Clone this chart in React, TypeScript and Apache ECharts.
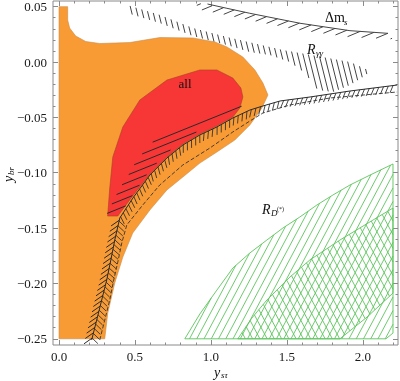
import React, { useEffect, useRef } from "react";
import * as echarts from "echarts";

// ---------- axis ranges & ticks ----------
const X_MIN = -0.0395;
const X_MAX = 2.231;
const Y_MIN = -0.2556;
const Y_MAX = 0.0551;
const xMajorTicks = [0, 0.5, 1, 1.5, 2];
const xMinorTicks = [0.1, 0.2, 0.3, 0.4, 0.6, 0.7, 0.8, 0.9, 1.1, 1.2, 1.3, 1.4, 1.6, 1.7, 1.8, 1.9, 2.1, 2.2];
const yMajorTicks = [-0.25, -0.2, -0.15, -0.1, -0.05, 0, 0.05];
const yMinorTicks = [
  -0.24, -0.23, -0.22, -0.21, -0.19, -0.18, -0.17, -0.16, -0.14, -0.13, -0.12, -0.11,
  -0.09, -0.08, -0.07, -0.06, -0.04, -0.03, -0.02, -0.01, 0.01, 0.02, 0.03, 0.04,
];

// ---------- regions (data coordinates: [y_sτ, y_br]) ----------
const orangeRegion = [
  [0, -0.25], [0, 0.05], [0.057, 0.05], [0.057, 0.038], [0.07, 0.0307], [0.11, 0.0235],
  [0.176, 0.0185], [0.268, 0.0167], [0.466, 0.0176], [0.664, 0.0221], [0.881, 0.0217],
  [1.026, 0.0181], [1.105, 0.0136], [1.21, 0.0045], [1.289, -0.0072], [1.342, -0.019],
  [1.375, -0.0298], [1.335, -0.0416], [1.256, -0.0569], [1.157, -0.0705], [1.039, -0.0813],
  [0.927, -0.0913], [0.815, -0.1039], [0.71, -0.1156], [0.598, -0.1337], [0.485, -0.1545],
  [0.42, -0.1762], [0.367, -0.1996], [0.321, -0.2267], [0.301, -0.25],
];
const redRegion = [
  [0.32, -0.1391], [0.334, -0.1138], [0.354, -0.0858], [0.42, -0.0587], [0.532, -0.0343],
  [0.71, -0.0163], [0.927, -0.0072], [1.039, -0.0072], [1.144, -0.0145], [1.197, -0.0235],
  [1.21, -0.0316], [1.19, -0.0416], [1.144, -0.0497], [1.039, -0.0578], [0.927, -0.065],
  [0.815, -0.0741], [0.71, -0.0858], [0.598, -0.1012], [0.485, -0.121], [0.387, -0.1391],
];
const greenOuter = [
  [0.828, -0.25], [0.927, -0.2276], [1.039, -0.206], [1.144, -0.1861], [1.256, -0.1725],
  [1.368, -0.1608], [1.473, -0.15], [1.585, -0.14], [1.697, -0.1292], [1.803, -0.1201],
  [1.915, -0.1111], [2.047, -0.1021], [2.198, -0.0921], [2.198, -0.2448], [2.152, -0.25],
];
const greenInner = [
  [1.177, -0.25], [1.269, -0.2313], [1.368, -0.215], [1.52, -0.1942], [1.651, -0.1788],
  [1.849, -0.1608], [2.067, -0.1427], [2.198, -0.1319], [2.198, -0.2087], [2.027, -0.2304],
  [1.849, -0.25],
];
// hatched contour lines
const spineLine = [
  [0.215, -0.2511], [0.248, -0.2331], [0.281, -0.215], [0.314, -0.1969], [0.341, -0.1789],
  [0.367, -0.1608], [0.4, -0.1409], [0.486, -0.1229], [0.598, -0.1021], [0.71, -0.0867],
  [0.815, -0.075], [0.927, -0.0659], [1.039, -0.0587], [1.144, -0.0506], [1.256, -0.0434],
  [1.342, -0.0397], [1.455, -0.0352], [1.652, -0.0316], [1.915, -0.0262], [2.225, -0.0208],
];
const spineLowerCount = 7;
const dashLine = [
  [0.268, -0.2511], [0.301, -0.2331], [0.334, -0.215], [0.36, -0.1969], [0.387, -0.1807],
  [0.413, -0.1635], [0.446, -0.1472], [0.551, -0.1292], [0.663, -0.1111], [0.815, -0.093],
  [0.993, -0.0777], [1.144, -0.0632], [1.256, -0.0533], [1.342, -0.0461], [1.52, -0.0388],
  [1.783, -0.0325], [2.225, -0.0271],
];
const redHatchBand = [
  [0.315, -0.1373], [0.354, -0.1265], [0.4, -0.1138], [0.446, -0.1048], [0.512, -0.0885],
  [0.617, -0.0723], [0.716, -0.0614], [0.947, -0.0488], [1.177, -0.0361], [1.204, -0.0397],
  [1.144, -0.0461], [1.039, -0.0542], [0.927, -0.0614], [0.815, -0.0705], [0.71, -0.0822],
  [0.598, -0.0976], [0.486, -0.1201], [0.4, -0.1382],
];
const rgammaBand = [
  [0.447, 0.0515], [0.664, 0.0425], [0.881, 0.0307], [1.105, 0.0226], [1.302, 0.0163],
  [1.474, 0.0108], [1.698, 0.0054], [1.915, 0.0], [2.047, -0.0081], [2.02, -0.0117],
  [1.915, -0.0208], [1.803, -0.0271], [1.704, -0.0253], [1.619, -0.0099], [1.52, 0.0],
  [1.388, 0.0063], [1.256, 0.009], [1.105, 0.0154], [0.881, 0.0235], [0.664, 0.0352],
  [0.447, 0.0443],
];
const dmsLine = [
  [0.977, 0.0524], [1.105, 0.0485], [1.256, 0.044], [1.586, 0.035], [1.915, 0.0283], [2.165, 0.0259],
];
const dmsBand = [
  [0.907, 0.0533], [1.105, 0.0485], [1.256, 0.044], [1.586, 0.035], [1.915, 0.0283],
  [2.192, 0.0257], [2.192, 0.0208], [1.915, 0.0226], [1.586, 0.0289], [1.256, 0.0379],
  [1.105, 0.0425], [0.907, 0.0479],
];

// ---------- geometry helpers (pixel space) ----------
type Seg = [number, number, number, number];

function hatch(poly: number[][], angleDeg: number, spacing: number): Seg[] {
  const a = (angleDeg * Math.PI) / 180;
  const dx = Math.cos(a), dy = Math.sin(a);
  const nx = -dy, ny = dx;
  let lo = Infinity, hi = -Infinity;
  for (const p of poly) {
    const d = p[0] * nx + p[1] * ny;
    lo = Math.min(lo, d);
    hi = Math.max(hi, d);
  }
  const segs: Seg[] = [];
  for (let c = Math.ceil(lo / spacing) * spacing; c <= hi; c += spacing) {
    const ts: number[] = [];
    for (let i = 0; i < poly.length; i++) {
      const p1 = poly[i], p2 = poly[(i + 1) % poly.length];
      const d1 = p1[0] * nx + p1[1] * ny - c;
      const d2 = p2[0] * nx + p2[1] * ny - c;
      if ((d1 < 0) !== (d2 < 0)) {
        const t = d1 / (d1 - d2);
        const ix = p1[0] + (p2[0] - p1[0]) * t;
        const iy = p1[1] + (p2[1] - p1[1]) * t;
        ts.push(ix * dx + iy * dy);
      }
    }
    ts.sort((u, v) => u - v);
    for (let i = 0; i + 1 < ts.length; i += 2) {
      segs.push([
        c * nx + ts[i] * dx, c * ny + ts[i] * dy,
        c * nx + ts[i + 1] * dx, c * ny + ts[i + 1] * dy,
      ]);
    }
  }
  return segs;
}

function ticksAlong(pts: number[][], spacing: number, angleDeg: number, len: number, relative: boolean, start: number): Seg[] {
  const segs: Seg[] = [];
  let next = start, acc = 0;
  for (let i = 0; i < pts.length - 1; i++) {
    const [x1, y1] = pts[i], [x2, y2] = pts[i + 1];
    const L = Math.hypot(x2 - x1, y2 - y1);
    const t = Math.atan2(y2 - y1, x2 - x1);
    while (next <= acc + L) {
      const f = (next - acc) / L;
      const px = x1 + (x2 - x1) * f, py = y1 + (y2 - y1) * f;
      const a = (relative ? t : 0) + (angleDeg * Math.PI) / 180;
      segs.push([px, py, px + len * Math.cos(a), py + len * Math.sin(a)]);
      next += spacing;
    }
    acc += L;
  }
  return segs;
}

function segPath(segs: Seg[]): string {
  return segs.map((s) => `M${s[0].toFixed(2)} ${s[1].toFixed(2)}L${s[2].toFixed(2)} ${s[3].toFixed(2)}`).join("");
}

function layer(render: (px: (pts: number[][]) => number[][]) => any[]) {
  return {
    type: "custom",
    coordinateSystem: "cartesian2d",
    xAxisIndex: 0,
    yAxisIndex: 0,
    clip: true,
    silent: true,
    data: [[0, 0]],
    renderItem: (_params: any, api: any) => {
      const px = (pts: number[][]) => pts.map((p) => api.coord(p));
      return { type: "group", children: render(px) };
    },
  };
}

const SERIF = "'Liberation Serif', 'DejaVu Serif', serif";
const FRAME = "#8a8a8a";

// y is the vertical middle of the text
function txt(x: number, y: number, text: string, size: number, italic: boolean, align = "left") {
  return {
    type: "text",
    x,
    y,
    z: 100,
    style: {
      text,
      fontFamily: SERIF,
      fontSize: size,
      fontStyle: italic ? "italic" : "normal",
      fill: "#111",
      align,
      verticalAlign: "middle",
    },
  };
}

export default function App() {
  const ref = useRef<HTMLDivElement>(null);
  useEffect(() => {
    if (!ref.current) return;
    const chart = echarts.init(ref.current, undefined, { renderer: "svg" });

    const tickAxis = (dim: "x" | "y", position: string, values: number[], len: number, labels: boolean) => {
      const base: any = {
        type: "value",
        min: dim === "x" ? X_MIN : Y_MIN,
        max: dim === "x" ? X_MAX : Y_MAX,
        position,
        axisLine: { show: false, onZero: false },
        splitLine: { show: false },
        axisTick: { show: true, inside: true, length: len, customValues: values, lineStyle: { color: FRAME, width: 1 } },
        axisLabel: labels
          ? {
              show: true,
              customValues: values,
              fontFamily: SERIF,
              fontSize: 13,
              color: "#1a1a1a",
              margin: dim === "x" ? 5 : 6,
              formatter: (v: number) =>
                dim === "x" ? v.toFixed(1) : (v < -1e-9 ? "\u2212" : "") + Math.abs(v).toFixed(2),
            }
          : { show: false },
      };
      return base;
    };

    const option: any = {
      animation: false,
      grid: { left: 53, top: 1, width: 345, height: 344, show: true, borderColor: FRAME, borderWidth: 1 },
      xAxis: [
        tickAxis("x", "bottom", xMajorTicks, 5, true),
        tickAxis("x", "bottom", xMinorTicks, 2.5, false),
        tickAxis("x", "top", xMajorTicks, 5, false),
        tickAxis("x", "top", xMinorTicks, 2.5, false),
      ],
      yAxis: [
        tickAxis("y", "left", yMajorTicks, 5, true),
        tickAxis("y", "left", yMinorTicks, 2.5, false),
        tickAxis("y", "right", yMajorTicks, 5, false),
        tickAxis("y", "right", yMinorTicks, 2.5, false),
      ],
      series: [
        layer((px) => [
          { type: "polygon", shape: { points: px(orangeRegion) }, style: { fill: "#F89B34", stroke: "#c98a4a", lineWidth: 0.6 } },
          { type: "polygon", shape: { points: px(redRegion) }, style: { fill: "#F73636", stroke: "#a8402a", lineWidth: 0.6 } },
        ]),
        layer((px) => {
          const outer = px(greenOuter), inner = px(greenInner);
          return [
            { type: "path", shape: { pathData: segPath(hatch(outer, -62, 6.4)) }, style: { stroke: "#5cc45c", lineWidth: 0.9, fill: "none" } },
            { type: "path", shape: { pathData: segPath(hatch(inner, -118, 6.4)) }, style: { stroke: "#5cc45c", lineWidth: 0.9, fill: "none" } },
            { type: "polygon", shape: { points: outer }, style: { fill: "none", stroke: "#5cc45c", lineWidth: 0.9 } },
            { type: "polygon", shape: { points: inner }, style: { fill: "none", stroke: "#5cc45c", lineWidth: 0.9 } },
          ];
        }),
        layer((px) => [
          { type: "path", shape: { pathData: segPath(hatch(px(rgammaBand), 76, 5.2)) }, style: { stroke: "#444", lineWidth: 1, fill: "none" } },
        ]),
        layer((px) => [
          { type: "path", shape: { pathData: segPath(hatch(px(dmsBand), -22.6, 6.2)) }, style: { stroke: "#444", lineWidth: 1, fill: "none" } },
          { type: "polyline", shape: { points: px(dmsLine) }, style: { stroke: "#444", lineWidth: 1, fill: "none" } },
        ]),
        layer((px) => {
          const spine = px(spineLine);
          const lower = spine.slice(0, spineLowerCount);
          const segs = [
            ...hatch(px(redHatchBand), -22, 7),
            ...ticksAlong(lower, 5.5, 145, 10, false, 2),
          ];
          const right = ticksAlong(spine, 4.8, 120, 8, true, 2);
          return [
            { type: "path", shape: { pathData: segPath(segs) }, style: { stroke: "#2a2a2a", lineWidth: 1, fill: "none" } },
            { type: "path", shape: { pathData: segPath(right) }, style: { stroke: "#333", lineWidth: 0.9, fill: "none" } },
            { type: "polyline", shape: { points: spine }, style: { stroke: "#2a2a2a", lineWidth: 1, fill: "none" } },
            { type: "polyline", shape: { points: px(dashLine) }, style: { stroke: "#333", lineWidth: 0.9, fill: "none", lineDash: [4, 2] } },
          ];
        }),
      ],
      graphic: [
        txt(185, 83, "all", 13, false, "center"),
        txt(325, 17.5, "\u0394m", 14, false),
        txt(344, 21.5, "s", 9, true),
        txt(307, 49, "R", 14, true),
        txt(316, 53, "\u03b3\u03b3", 9, true),
        txt(262, 209, "R", 14, true),
        txt(271, 213, "D", 9, true),
        txt(277, 209, "(*)", 6, false),
        txt(214, 372, "y", 14, true),
        txt(221, 375, "s\u03c4", 9, true),
        {
          type: "group",
          x: 9,
          y: 173,
          rotation: Math.PI / 2,
          z: 100,
          children: [txt(-9, -1, "y", 14, true), txt(-2, 2, "br", 9, true)],
        },
      ],
    };
    chart.setOption(option);
    return () => chart.dispose();
  }, []);
  return <div ref={ref} style={{ position: "fixed", left: 0, top: 0, width: 400, height: 381 }} />;
}
